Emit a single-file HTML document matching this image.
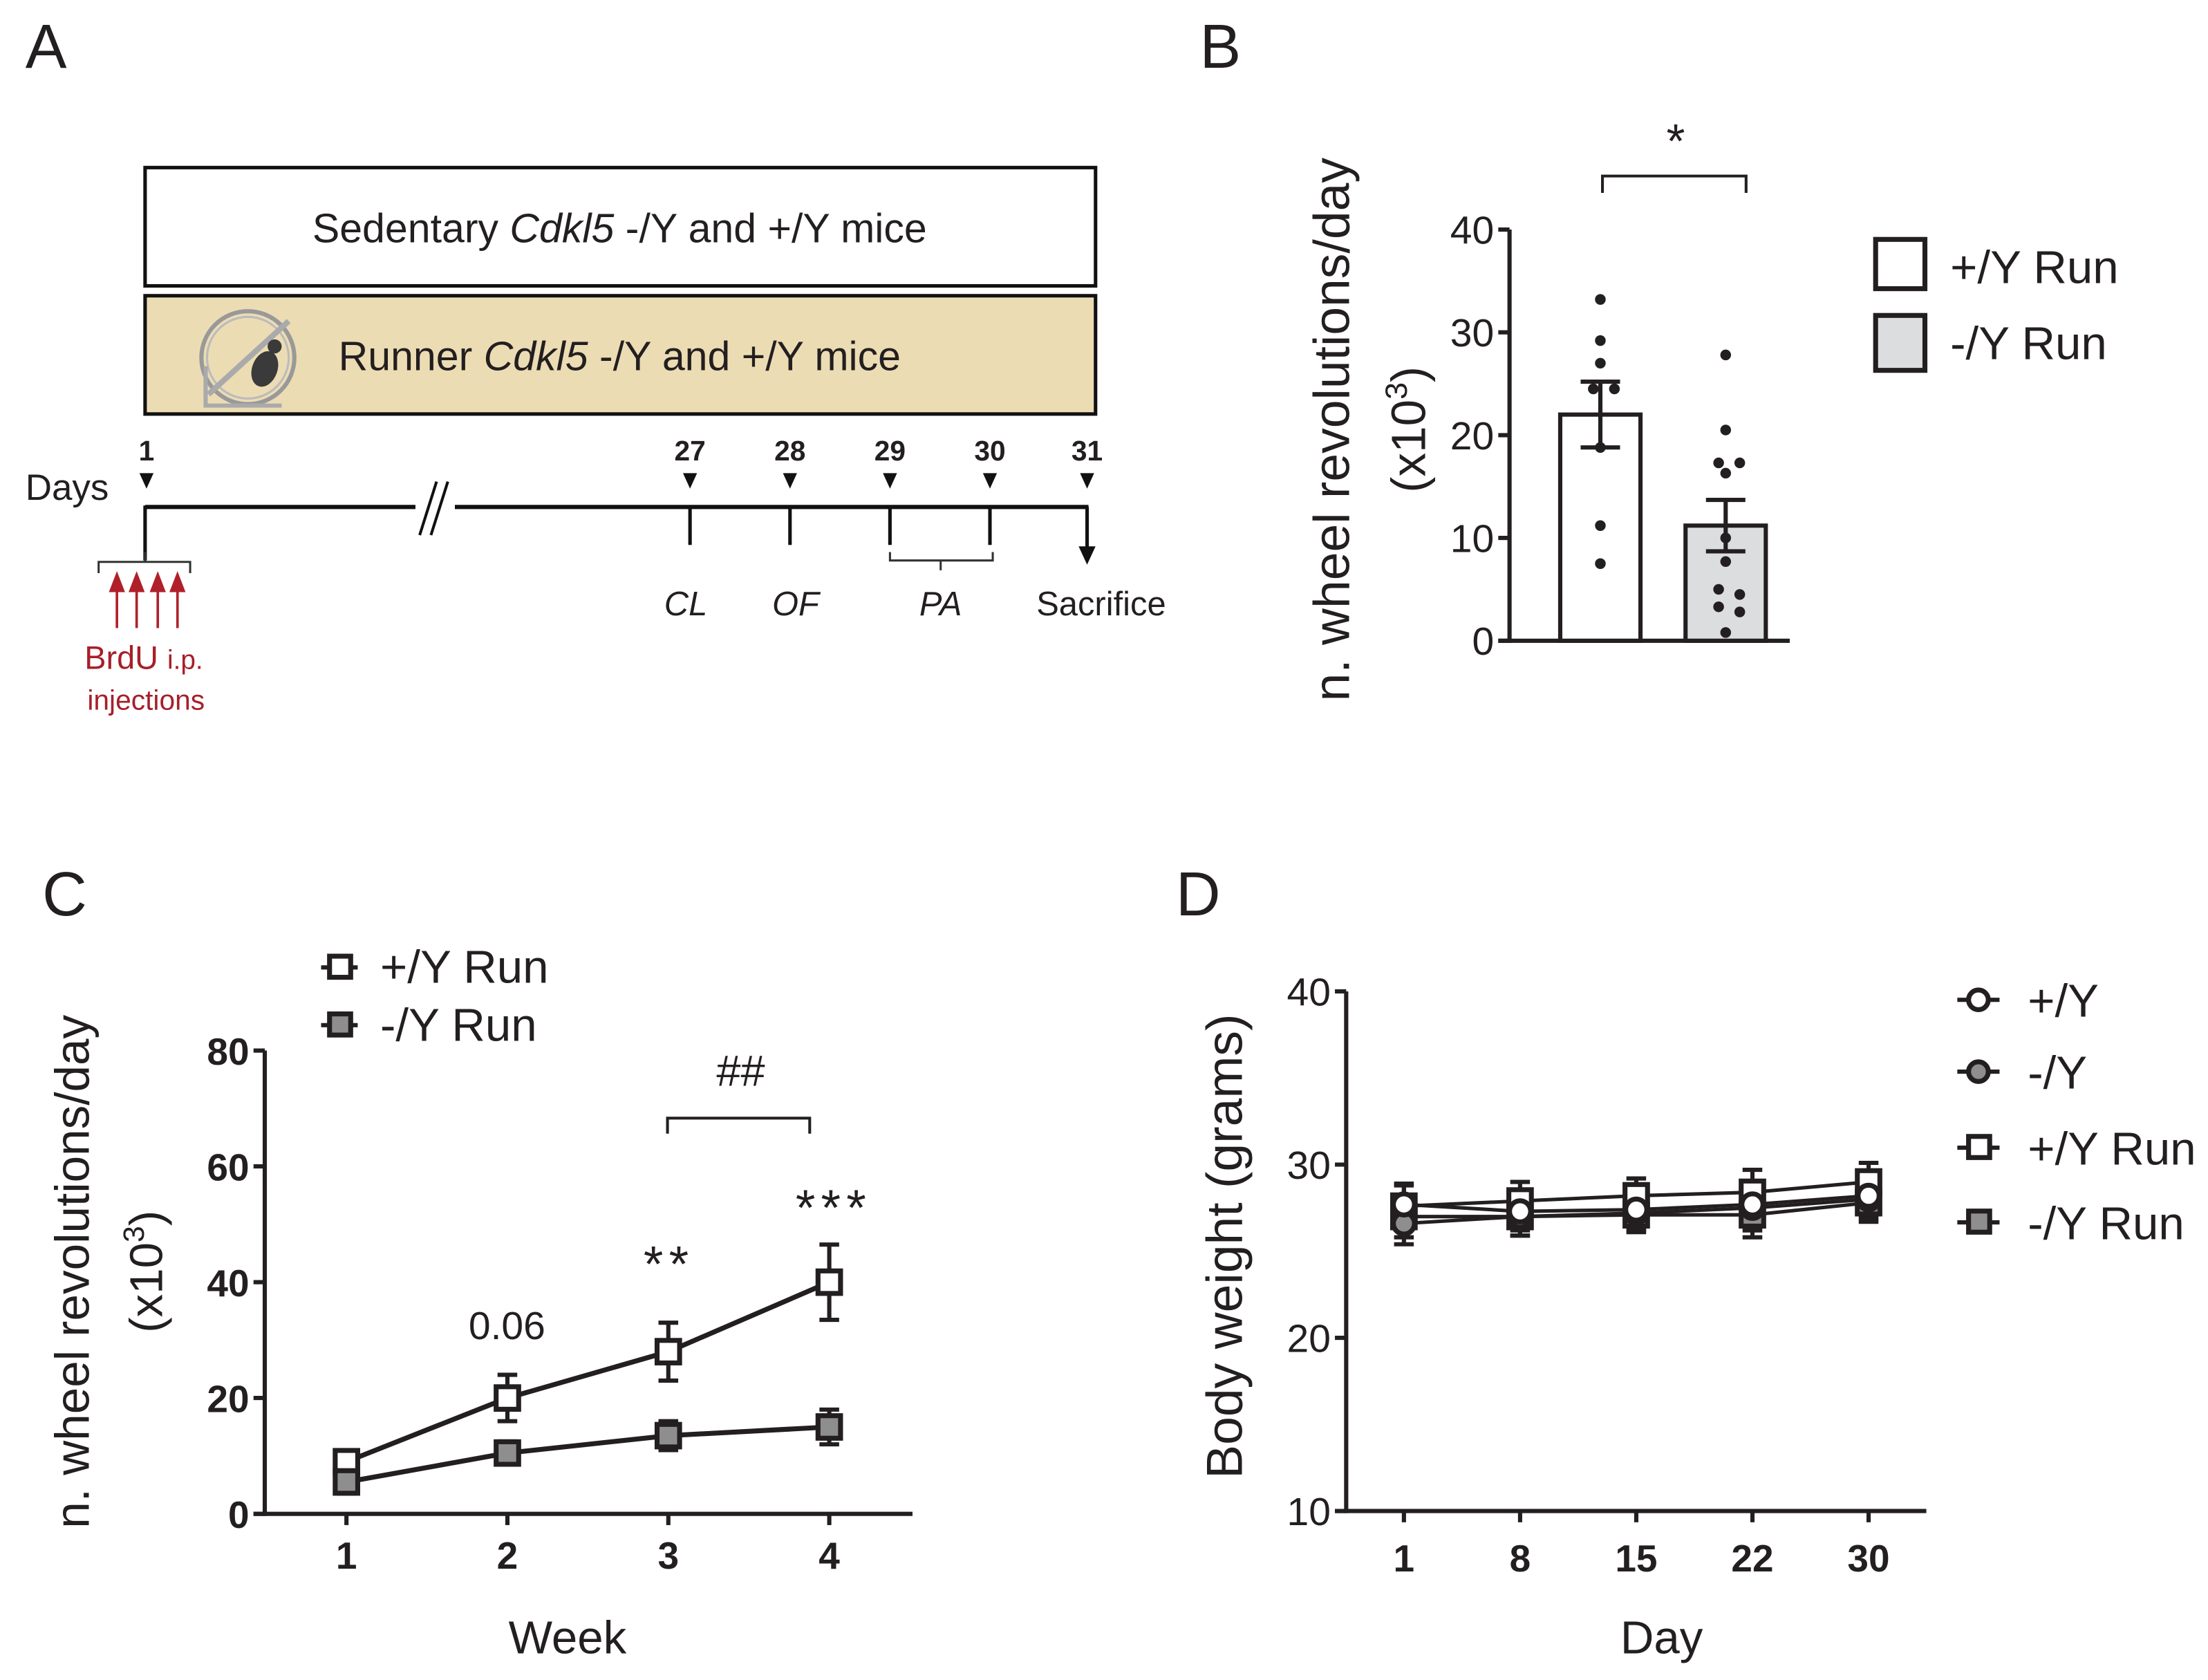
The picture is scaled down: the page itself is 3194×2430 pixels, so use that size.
<!DOCTYPE html>
<html><head><meta charset="utf-8"><style>
html,body{margin:0;padding:0;background:#fff}
svg{display:block}
text{font-family:"Liberation Sans",sans-serif;fill:#231f20}
</style></head><body>
<svg id="fig" xmlns="http://www.w3.org/2000/svg" width="3194" height="2430" viewBox="0 0 1568 1193">
<rect width="1568" height="1193" fill="#fff"/>
<text x="18" y="48" font-size="44">A</text>
<text x="852" y="48" font-size="44">B</text>
<text x="30" y="650" font-size="44">C</text>
<text x="835" y="650" font-size="44">D</text>

<g>
<rect x="103" y="119" width="675" height="84" fill="#fff" stroke="#111" stroke-width="2.5"/>
<text x="440" y="172" font-size="29" text-anchor="middle">Sedentary <tspan font-style="italic">Cdkl5</tspan> -/Y and +/Y mice</text>
<rect x="103" y="210" width="675" height="84" fill="#ecdcb4" stroke="#111" stroke-width="2.5"/>
<g>
<circle cx="176" cy="254" r="33" fill="none" stroke="#999" stroke-width="3"/>
<circle cx="176" cy="254" r="29" fill="none" stroke="#bbb" stroke-width="1.5"/>
<line x1="148" y1="280" x2="205" y2="228" stroke="#aaa" stroke-width="4"/>
<path d="M146 260 L146 288 L200 288" fill="none" stroke="#aaa" stroke-width="3"/>
<ellipse cx="188" cy="262" rx="9" ry="13" fill="#3a3a3a" transform="rotate(20 188 262)"/>
<circle cx="195" cy="246" r="5" fill="#3a3a3a"/>
</g>
<text x="440" y="263" font-size="29" text-anchor="middle">Runner <tspan font-style="italic">Cdkl5</tspan> -/Y and +/Y mice</text>
<text x="18" y="355" font-size="26">Days</text>
<line x1="103" y1="360" x2="773" y2="360" stroke="#111" stroke-width="3"/>
<line x1="103" y1="359" x2="103" y2="398" stroke="#111" stroke-width="2.5"/>
<rect x="295" y="340" width="28" height="40" fill="#fff"/>
<line x1="298" y1="380" x2="310" y2="342" stroke="#111" stroke-width="2"/>
<line x1="306" y1="380" x2="318" y2="342" stroke="#111" stroke-width="2"/>
<g id="dayTicks"></g>
<line x1="772" y1="360" x2="772" y2="390" stroke="#111" stroke-width="2.5"/>
<polygon points="766,388 778,388 772,401" fill="#111"/>
<path d="M70 407 L70 399 L135 399 L135 407 M103 399 L103 392" fill="none" stroke="#333" stroke-width="1.5"/>
<g id="brdu" stroke="#b0202a" fill="#b0202a"></g>
<text x="60" y="475" font-size="23" style="fill:#a71f29">BrdU <tspan font-size="19">i.p.</tspan></text>
<text x="62" y="504" font-size="20" style="fill:#a71f29">injections</text>
<path d="M632 392 L632 398 L705 398 L705 392 M668 398 L668 405" fill="none" stroke="#333" stroke-width="1.5"/>
<text x="487" y="437" font-size="24" font-style="italic" text-anchor="middle">CL</text>
<text x="565" y="437" font-size="24" font-style="italic" text-anchor="middle">OF</text>
<text x="668" y="437" font-size="24" font-style="italic" text-anchor="middle">PA</text>
<text x="782" y="437" font-size="24" text-anchor="middle">Sacrifice</text>
</g>

<g id="panelB"></g>
<g id="panelC"></g>
<g id="panelD"></g>
</svg>
<script>
const dayLabels = ["1","27","28","29","30","31"];
const dayX = [104,490,561,632,703,772];
const bCategories = ["+/Y Run","-/Y Run"];
const bMeans = [22.0, 11.2];
const bSem = [3.2, 2.5];
const bDotsWT = [33.2, 29.2, 27.0, 24.5, 24.5, 18.8, 11.2, 7.5];
const bDotsKO = [27.8, 20.5, 17.3, 17.3, 16.3, 10.0, 7.7, 5.0, 4.5, 3.3, 2.8, 0.8];
const bTicks = [0,10,20,30,40];
const cWeeks = [1,2,3,4];
const cWT = [9, 20, 28, 40];
const cWTerr = [1.5, 4, 5, 6.5];
const cKO = [5.5, 10.5, 13.5, 15];
const cKOerr = [2, 2, 2.5, 3];
const cTicks = [0,20,40,60,80];
const dDays = ["1","8","15","22","30"];
const dWT = [27.7, 27.3, 27.4, 27.7, 28.2];
const dKO = [26.6, 27.0, 27.2, 27.5, 28.0];
const dWTrun = [27.6, 27.9, 28.2, 28.4, 29.0];
const dKOrun = [27.0, 27.0, 27.1, 27.1, 27.8];
const dErr = [1.2, 1.1, 1.0, 1.3, 1.1];
const dTicks = [10,20,30,40];

const NS="http://www.w3.org/2000/svg";
function mk(tag, attrs, parent, txt){const e=document.createElementNS(NS,tag);for(const k in attrs)e.setAttribute(k,attrs[k]);if(txt!==undefined)e.textContent=txt;parent.appendChild(e);return e;}

const dt=document.getElementById('dayTicks');
dayLabels.forEach((l,i)=>{
  const x=dayX[i];
  const t=mk('text',{x:x,y:327,'font-size':20,'font-weight':'bold','text-anchor':'middle'},dt,l);
  
  
  mk('polygon',{points:(x-5)+',336 '+(x+5)+',336 '+x+',347',fill:'#111'},dt);
  if(i>0&&i<5) mk('line',{x1:x,y1:360,x2:x,y2:387,stroke:'#111','stroke-width':2.5},dt);
});
const br=document.getElementById('brdu');
[83,97,112,126].forEach(x=>{
  const a=mk('line',{x1:x,y1:446,x2:x,y2:418,'stroke-width':1.8},br);
  
  
  mk('polygon',{points:(x-5)+',420 '+(x+5)+',420 '+x+',407'},br);
});

(function(){
const g=document.getElementById('panelB');
const y0=455, y40=163;
const Y=v=>y0+(y40-y0)*v/40;
const barX=[1108,1197], bw=57;
const col='#231f20';
mk('line',{x1:1072,y1:Y(40),x2:1072,y2:y0+1.5,stroke:col,'stroke-width':3},g);
mk('line',{x1:1064,y1:y0,x2:1271,y2:y0,stroke:col,'stroke-width':3},g);
bTicks.forEach(v=>{
  mk('line',{x1:1064,y1:Y(v),x2:1072,y2:Y(v),stroke:col,'stroke-width':3},g);
  const t=mk('text',{x:1061,y:Y(v)+10,'font-size':28,'text-anchor':'end'},g,v);
  
  
});
const fills=['#fff','#dcdddf'];
bMeans.forEach((m,i)=>{
  const r=mk('rect',{x:barX[i],y:Y(m),width:bw,height:y0-Y(m),fill:fills[i],stroke:col,'stroke-width':3},g);
  
  
  const cx=barX[i]+bw/2;
  mk('line',{x1:cx,y1:Y(m+bSem[i]),x2:cx,y2:Y(m-bSem[i]),stroke:col,'stroke-width':3},g);
  mk('line',{x1:cx-14,y1:Y(m+bSem[i]),x2:cx+14,y2:Y(m+bSem[i]),stroke:col,'stroke-width':3},g);
  mk('line',{x1:cx-14,y1:Y(m-bSem[i]),x2:cx+14,y2:Y(m-bSem[i]),stroke:col,'stroke-width':3},g);
});
[bDotsWT,bDotsKO].forEach((arr,i)=>{
  const cx=barX[i]+bw/2;
  arr.forEach((v,j)=>{
    let dx=0; if(j>0&&Math.abs(arr[j-1]-v)<0.6) dx=10; if(j<arr.length-1&&Math.abs(arr[j+1]-v)<0.6) dx=-5;
    const c=mk('circle',{cx:cx+dx,cy:Y(v),r:3.8,fill:col},g);
    
    
  });
});
mk('path',{d:'M1138 137 L1138 125 L1240 125 L1240 137',fill:'none',stroke:col,'stroke-width':2},g);
mk('text',{x:1190,y:112,'font-size':34,'text-anchor':'middle'},g,'*');
const yt=mk('text',{x:0,y:0,'font-size':36,'text-anchor':'middle',transform:'translate(958,305) rotate(-90)'},g,'n. wheel revolutions/day');


const yt2=mk('text',{x:0,y:0,'font-size':34,'text-anchor':'middle',transform:'translate(1012,305) rotate(-90)'},g);
yt2.innerHTML='(x10<tspan dy="-13" font-size="22">3</tspan><tspan dy="13">)</tspan>';


bCategories.forEach((c,i)=>{
  const yy=170+i*54;
  const lr=mk('rect',{x:1332,y:yy,width:35,height:35+i*4,fill:fills[i],stroke:col,'stroke-width':3.5},g);
  
  
  const lt=mk('text',{x:1385,y:yy+31,'font-size':33},g,c);
  
  
});
})();

(function(){
const g=document.getElementById('panelC');
const col='#231f20';
const y0=1075,y80=746;
const Y=v=>y0+(y80-y0)*v/80;
const X=w=>246+(w-1)*114.3;
mk('line',{x1:188,y1:y80,x2:188,y2:y0+1.5,stroke:col,'stroke-width':3},g);
mk('line',{x1:180,y1:y0,x2:648,y2:y0,stroke:col,'stroke-width':3},g);
cTicks.forEach(v=>{
  mk('line',{x1:180,y1:Y(v),x2:188,y2:Y(v),stroke:col,'stroke-width':3},g);
  const t=mk('text',{x:177,y:Y(v)+10,'font-size':27,'font-weight':'bold','text-anchor':'end'},g,v);
  
  
});
cWeeks.forEach(w=>{
  mk('line',{x1:X(w),y1:y0,x2:X(w),y2:y0+8,stroke:col,'stroke-width':3},g);
  const t=mk('text',{x:X(w),y:1114,'font-size':27,'font-weight':'bold','text-anchor':'middle'},g,w);
  
  
});
const xt=mk('text',{x:403,y:1174,'font-size':33,'text-anchor':'middle'},g,'Week');


const yt=mk('text',{x:0,y:0,'font-size':34,'text-anchor':'middle',transform:'translate(63,903) rotate(-90)'},g,'n. wheel revolutions/day');


const yt2=mk('text',{x:0,y:0,'font-size':33,'text-anchor':'middle',transform:'translate(115,903) rotate(-90)'},g);
yt2.innerHTML='(x10<tspan dy="-13" font-size="21">3</tspan><tspan dy="13">)</tspan>';
[[cWT,cWTerr,'#fff','wt'],[cKO,cKOerr,'#8e8e8e','ko']].forEach(([vals,errs,fill,nm])=>{
  vals.forEach((v,i)=>{
    const x=X(cWeeks[i]);
    mk('line',{x1:x,y1:Y(v+errs[i]),x2:x,y2:Y(v-errs[i]),stroke:col,'stroke-width':3},g);
    mk('line',{x1:x-7,y1:Y(v+errs[i]),x2:x+7,y2:Y(v+errs[i]),stroke:col,'stroke-width':3},g);
    mk('line',{x1:x-7,y1:Y(v-errs[i]),x2:x+7,y2:Y(v-errs[i]),stroke:col,'stroke-width':3},g);
  });
  const p=mk('polyline',{points:vals.map((v,i)=>X(cWeeks[i])+','+Y(v)).join(' '),fill:'none',stroke:col,'stroke-width':3.5},g);
  
  
  vals.forEach((v,i)=>{
    const r=mk('rect',{x:X(cWeeks[i])-8,y:Y(v)-8,width:16,height:16,fill:fill,stroke:col,'stroke-width':3.5},g);
    
    
  });
});
mk('text',{x:360,y:951,'font-size':28,'text-anchor':'middle'},g,'0.06');
mk('text',{x:475,y:910,'font-size':36,'text-anchor':'middle','letter-spacing':'4'},g,'**');
mk('text',{x:592,y:870,'font-size':36,'text-anchor':'middle','letter-spacing':'4'},g,'***');
mk('text',{x:526,y:771,'font-size':31,'text-anchor':'middle'},g,'##');
mk('path',{d:'M474 805 L474 794 L575 794 L575 805',fill:'none',stroke:col,'stroke-width':2},g);
[['+/Y Run','#fff',687],['-/Y Run','#8e8e8e',728]].forEach(([l,f,y])=>{
  mk('line',{x1:228,y1:y,x2:254,y2:y,stroke:col,'stroke-width':3},g);
  const r=mk('rect',{x:234,y:y-8,width:15,height:15,fill:f,stroke:col,'stroke-width':3.5},g);
  
  
  const t=mk('text',{x:270,y:y+11,'font-size':33},g,l);
  
  
});
})();

(function(){
const g=document.getElementById('panelD');
const col='#231f20';
const y10=1073,y40=704;
const Y=v=>y10+(y40-y10)*(v-10)/30;
const X=i=>997+i*82.5;
mk('line',{x1:956,y1:y40,x2:956,y2:y10+1.5,stroke:col,'stroke-width':3},g);
mk('line',{x1:948,y1:y10,x2:1368,y2:y10,stroke:col,'stroke-width':3},g);
dTicks.forEach(v=>{
  mk('line',{x1:948,y1:Y(v),x2:956,y2:Y(v),stroke:col,'stroke-width':3},g);
  const t=mk('text',{x:945,y:Y(v)+10,'font-size':28,'text-anchor':'end'},g,v);
  
  
});
dDays.forEach((d,i)=>{
  mk('line',{x1:X(i),y1:y10,x2:X(i),y2:y10+8,stroke:col,'stroke-width':3},g);
  const t=mk('text',{x:X(i),y:1116,'font-size':27,'font-weight':'bold','text-anchor':'middle'},g,d);
  
  
});
const xt=mk('text',{x:1180,y:1174,'font-size':33,'text-anchor':'middle'},g,'Day');


const yt=mk('text',{x:0,y:0,'font-size':36,'text-anchor':'middle',transform:'translate(882,885) rotate(-90)'},g,'Body weight (grams)');


const series=[[dWTrun,'sq','#fff','wt-run'],[dKOrun,'sq','#8e8e8e','ko-run'],[dKO,'ci','#8e8e8e','ko'],[dWT,'ci','#fff','wt']];
series.forEach(([vals,shape,fill,nm])=>{
  vals.forEach((v,i)=>{
    mk('line',{x1:X(i),y1:Y(v+dErr[i]),x2:X(i),y2:Y(v-dErr[i]),stroke:col,'stroke-width':3},g);
    mk('line',{x1:X(i)-7,y1:Y(v+dErr[i]),x2:X(i)+7,y2:Y(v+dErr[i]),stroke:col,'stroke-width':3},g);
    mk('line',{x1:X(i)-7,y1:Y(v-dErr[i]),x2:X(i)+7,y2:Y(v-dErr[i]),stroke:col,'stroke-width':3},g);
  });
  const p=mk('polyline',{points:vals.map((v,i)=>X(i)+','+Y(v)).join(' '),fill:'none',stroke:col,'stroke-width':2.5},g);
  
  
});
series.forEach(([vals,shape,fill,nm])=>{
  vals.forEach((v,i)=>{
    let m;
    if(shape==='sq') m=mk('rect',{x:X(i)-8,y:Y(v)-8,width:16,height:16,fill:fill,stroke:col,'stroke-width':3.5},g);
    else m=mk('circle',{cx:X(i),cy:Y(v),r:7.5,fill:fill,stroke:col,'stroke-width':3.5},g);
    
    
  });
});
[['+/Y','ci','#fff',710],['-/Y','ci','#8e8e8e',761],['+/Y Run','sq','#fff',815],['-/Y Run','sq','#8e8e8e',868]].forEach(([l,s,f,y])=>{
  mk('line',{x1:1390,y1:y,x2:1420,y2:y,stroke:col,'stroke-width':3},g);
  let m;
  if(s==='sq') m=mk('rect',{x:1398,y:y-8,width:15,height:15,fill:f,stroke:col,'stroke-width':3.5},g);
  else m=mk('circle',{cx:1405,cy:y,r:7,fill:f,stroke:col,'stroke-width':3.5},g);
  
  
  const t=mk('text',{x:1440,y:y+12,'font-size':33},g,l);
  
  
});
})();
</script>
</body></html>
